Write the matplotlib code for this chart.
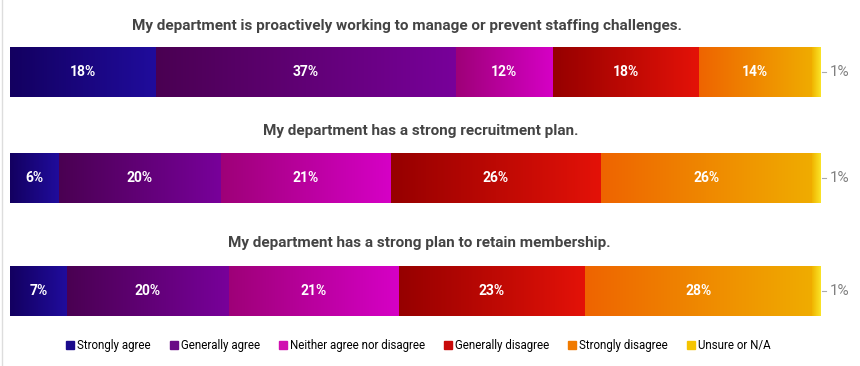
import matplotlib
matplotlib.use("Agg")
import matplotlib.pyplot as plt
import numpy as np
from matplotlib.colors import LinearSegmentedColormap
from matplotlib.lines import Line2D

questions = [
    "My department is proactively working to manage or prevent staffing challenges.",
    "My department has a strong recruitment plan.",
    "My department has a strong plan to retain membership.",
]
categories = ["Strongly agree", "Generally agree", "Neither agree nor disagree",
              "Generally disagree", "Strongly disagree", "Unsure or N/A"]
strongly_agree = [18, 6, 7]
generally_agree = [37, 20, 20]
neither = [12, 21, 21]
generally_disagree = [18, 26, 23]
strongly_disagree = [14, 26, 28]
unsure = [1, 1, 1]

series = [strongly_agree, generally_agree, neither, generally_disagree, strongly_disagree, unsure]
grad = [("#130060", "#200c9c"), ("#4a0052", "#78009a"), ("#9e0078", "#d600c6"),
        ("#960000", "#e41208"), ("#ee6400", "#f0ac00"), ("#f0b400", "#fae428")]
legend_colors = ["#1a0a8c", "#6a0a86", "#d010b0", "#c80a0a", "#f07a00", "#f5c400"]

W, H = 860, 366
fig = plt.figure(figsize=(W / 100, H / 100), dpi=100)
ax = fig.add_axes([10 / W, 0, 810 / W, 1])
ax.set_xlim(0, 100)
ax.set_ylim(H, 0)
ax.axis("off")

centers = [72, 178, 291]
bar_h = 50
title_y = [26, 131, 243]
title_x = [49.0, 50.7, 50.5]

for qi, q in enumerate(questions):
    vals = [s[qi] for s in series]
    left = 0
    yc = centers[qi]
    for si, v in enumerate(vals):
        cmap = LinearSegmentedColormap.from_list("g%d" % si, list(grad[si]))
        g = np.linspace(0, 1, 256).reshape(1, -1)
        ax.imshow(g, cmap=cmap, aspect="auto",
                  extent=(left, left + v, yc + bar_h / 2, yc - bar_h / 2),
                  interpolation="bilinear", zorder=1)
        if v >= 3:
            ax.text(left + v / 2, yc, f"{v}%", ha="center", va="center",
                    color="white", fontsize=10, fontweight="bold",
                    family="Roboto", zorder=3)
        else:
            ax.plot([left + v + 0.2, left + v + 0.7], [yc, yc], color="#aaaaaa", lw=0.8,
                    clip_on=False)
            ax.text(left + v + 1.15, yc, f"{v}%", ha="left", va="center",
                    color="#808080", fontsize=11, family="Roboto", clip_on=False)
        left += v
    ax.text(title_x[qi], title_y[qi], q, ha="center", va="center", fontsize=11,
            fontweight="bold", color="#444444", family="Roboto")

ax.set_xlim(0, 100)
ax.set_ylim(H, 0)

handles = [Line2D([], [], marker="s", linestyle="none", markersize=5.5,
                  markerfacecolor=c, markeredgecolor=c) for c in legend_colors]
fig.legend(handles, categories, loc="center", bbox_to_anchor=(0.486, 1 - 346 / H),
           ncol=6, frameon=False, handletextpad=0.2,
           columnspacing=1.6, handlelength=0.8,
           prop={"family": "Roboto", "size": 8.3})

fig.add_artist(Line2D([0.002, 0.002], [0, 1], color="#dddddd", lw=1))
fig.savefig("out.png", dpi=100)
